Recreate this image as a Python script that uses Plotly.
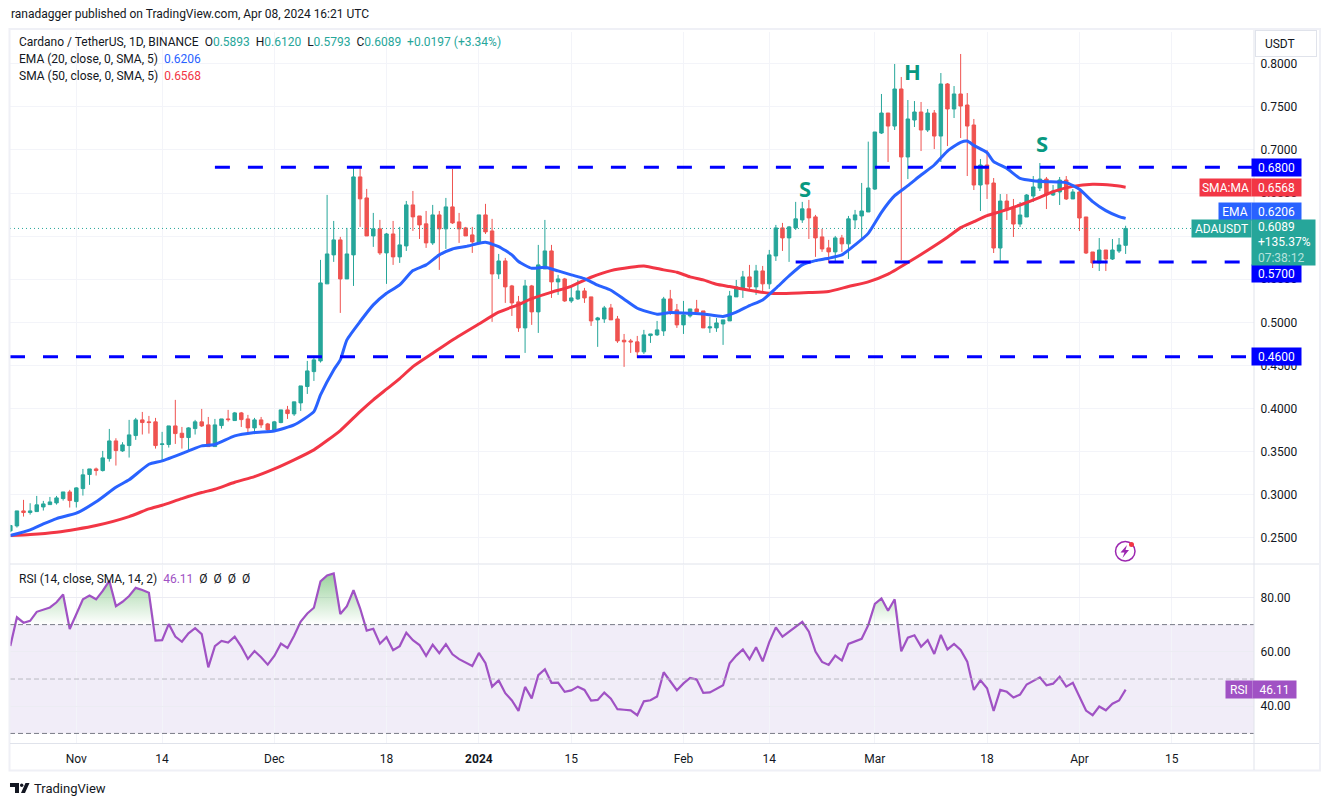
import pandas as pd
import plotly.graph_objects as go

W, H = 1329, 806
dates = pd.date_range("2023-10-22", periods=170)

opens = [.2580, .2638, .2812, .2793, .2804, .2858, .2885, .2905, .2955, .3032,
         .2920, .3071, .3234, .3299, .3280, .3419, .3624, .3508, .3570, .3686,
         .3868, .3845, .3845, .3582, .3582, .3798, .3713, .3663, .3767, .3845,
         .3810, .3558, .3802, .3879, .3860, .3949, .3879, .3775, .3868, .3821,
         .3740, .3837, .3984, .3937, .4065, .4255, .4428, .4552, .5446, .5782,
         .5956, .5503, .5782, .6687, .6443, .6002, .6084, .5805, .6025, .5759,
         .5886, .6362, .6234, .6142, .5921, .6246, .6084, .6339, .6165, .6095,
         .6014, .5921, .6246, .6060, .5561, .5712, .5422, .5237, .4935, .5422,
         .5121, .5619, .5828, .5469, .5503, .5248, .5271, .5364, .5295, .5028,
         .5039, .5167, .5039, .4792, .4784, .4773, .4657, .4846, .4854, .4900,
         .5271, .5144, .4970, .5074, .5155, .5132, .4935, .4935, .4981, .5016,
         .5295, .5399, .5527, .5411, .5596, .5446, .5770, .6095, .5979, .6095,
         .6188, .6316, .6223, .5991, .5863, .5817, .5979, .5910, .6188, .6234,
         .6280, .6546, .7196, .7428, .7277, .7707, .6918, .7347, .7440, .7231,
         .7428, .7161, .7765, .7475, .7649, .7521, .7289, .6593, .6825, .6616,
         .5862, .6407, .6338, .6140, .6222, .6465, .6558, .6662, .6477, .6512,
         .6651, .6431, .6512, .6222, .5816, .5688, .5839, .5734, .5827, .5893]
highs = [.2650, .2812, .2940, .2901, .2986, .2928, .2974, .2986, .3032, .3056,
         .3087, .3299, .3299, .3315, .3508, .3763, .3655, .3609, .3868, .3891,
         .3960, .3914, .3891, .3729, .3798, .4100, .3786, .3783, .3868, .3995,
         .3902, .3879, .3879, .3984, .3960, .3960, .3926, .3891, .3902, .3833,
         .3856, .3984, .4030, .4077, .4262, .4552, .4610, .5724, .6478, .6176,
         .5991, .6095, .6807, .6814, .6548, .6269, .6188, .6037, .6176, .6107,
         .6408, .6524, .6234, .6292, .6362, .6292, .6443, .6780, .6269, .6107,
         .6107, .6246, .6374, .6200, .5793, .5747, .5434, .5306, .5492, .5434,
         .5898, .6188, .5898, .5550, .5515, .5434, .5492, .5399, .5295, .5063,
         .5190, .5213, .5074, .4865, .4807, .4842, .4912, .4865, .5016, .5295,
         .5376, .5213, .5248, .5155, .5260, .5132, .5066, .5051, .5028, .5364,
         .5492, .5596, .5666, .5666, .5654, .5840, .6130, .6153, .6118, .6397,
         .6397, .6420, .6246, .6084, .5956, .6002, .6014, .6234, .6304, .6617,
         .7096, .7208, .7649, .7428, .7997, .7846, .7579, .7567, .7556, .7475,
         .7463, .7892, .7776, .7741, .8113, .7660, .7359, .6894, .7000, .6674,
         .6488, .6488, .6431, .6396, .6488, .6697, .6848, .6686, .6593, .6686,
         .6697, .6546, .6535, .6222, .5816, .5978, .5839, .5966, .5978, .6120]
lows = [.2565, .2619, .2746, .2769, .2804, .2816, .2885, .2885, .2932, .2851,
        .2851, .2990, .3114, .3222, .3269, .3384, .3338, .3497, .3431, .3636,
        .3698, .3709, .3535, .3404, .3547, .3589, .3535, .3500, .3698, .3786,
        .3558, .3558, .3767, .3848, .3856, .3786, .3713, .3702, .3775, .3729,
        .3729, .3829, .3879, .3914, .3972, .4169, .4320, .4533, .5446, .5701,
        .5109, .5503, .5422, .6107, .6002, .5875, .5782, .5446, .5666, .5689,
        .5828, .6060, .5967, .5863, .5898, .5608, .5851, .6142, .5921, .6002,
        .5805, .5906, .6025, .5005, .5503, .5225, .5074, .4889, .4645, .4970,
        .4877, .5619, .5283, .5318, .5237, .5225, .5260, .5225, .4958, .4715,
        .4993, .5028, .4761, .4483, .4645, .4587, .4633, .4761, .4842, .4842,
        .5086, .4935, .4865, .5055, .5121, .4935, .4877, .4889, .4738, .5016,
        .5295, .5283, .5376, .5318, .5353, .5387, .5712, .5828, .5701, .6072,
        .6153, .5967, .5759, .5817, .5689, .5701, .5817, .5735, .6084, .5967,
        .6280, .6535, .7185, .6860, .7231, .5723, .6662, .7266, .6987, .7208,
        .7010, .6860, .7045, .7370, .7138, .6697, .6535, .6291, .6431, .5804,
        .5711, .6187, .5990, .6106, .6222, .6396, .6523, .6314, .6465, .6361,
        .6419, .6431, .6059, .5792, .5630, .5595, .5595, .5723, .5804, .5793]
closes = [.2642, .2812, .2793, .2812, .2882, .2893, .2916, .2963, .3032, .2932,
          .3079, .3230, .3299, .3280, .3427, .3624, .3512, .3578, .3694, .3868,
          .3837, .3837, .3570, .3589, .3798, .3709, .3663, .3775, .3845, .3798,
          .3558, .3810, .3879, .3871, .3949, .3871, .3775, .3868, .3810, .3752,
          .3845, .3984, .3941, .4077, .4262, .4436, .4564, .5457, .5793, .5956,
          .5503, .5793, .6687, .6432, .6002, .6084, .5805, .6025, .5759, .5898,
          .6362, .6223, .6130, .5921, .6246, .6084, .6339, .6153, .6084, .6002,
          .5933, .6246, .6049, .5561, .5712, .5411, .5225, .4935, .5422, .5121,
          .5666, .5828, .5469, .5503, .5248, .5283, .5364, .5283, .5016, .5051,
          .5167, .5028, .4784, .4773, .4773, .4657, .4854, .4865, .4912, .5271,
          .5132, .4970, .5086, .5155, .5121, .4935, .4947, .4993, .5028, .5306,
          .5411, .5527, .5411, .5596, .5446, .5782, .6095, .5979, .6107, .6200,
          .6316, .6211, .5979, .5851, .5817, .5979, .5910, .6200, .6246, .6292,
          .6558, .7208, .7428, .7277, .7707, .6918, .7359, .7440, .7231, .7428,
          .7161, .7765, .7475, .7649, .7509, .7277, .6593, .6825, .6604, .5862,
          .6407, .6303, .6140, .6245, .6477, .6570, .6662, .6477, .6523, .6651,
          .6431, .6512, .6210, .5804, .5688, .5839, .5734, .5839, .5897, .6089]

# moving averages, day numbers counted from 1 Nov 2023
ema_days = [-10, -7, -5, -3, 0, 3, 6, 8, 11, 13, 17, 19, 21, 24, 27, 30, 33, 36, 37, 39, 40, 41,
            43, 45, 47, 49, 51, 53, 55, 57, 59, 61, 62, 64, 66, 67, 69, 71, 73, 75, 77, 79, 81,
            83, 85, 88, 90, 93, 95, 98, 100, 102, 104, 106, 108, 110, 112, 114, 116, 118, 120,
            122, 124, 126, 128, 130, 132, 134, 135, 136, 138, 139, 141, 143, 145, 147, 150, 152,
            154, 156, 158, 159]
ema_values = [.2526, .2592, .2661, .2723, .2785, .2917, .3087, .3172, .3353, .3392, .3508, .3566,
              .3582, .3682, .3721, .3740, .3810, .3964, .4158, .4448, .4564, .4796,
              .5009, .5202, .5337, .5434, .5600, .5666, .5782, .5851, .5879, .5917, .5929, .5879,
              .5782, .5705, .5627, .5639, .5596, .5550, .5507, .5430, .5372,
              .5268, .5163, .5094, .5113, .5105, .5097, .5067, .5117, .5194, .5260, .5395, .5538,
              .5666, .5716, .5743, .5782, .5898, .6032,
              .6276, .6469, .6585, .6709, .6825, .6987, .7088, .7103, .7053, .6968, .6864, .6786,
              .6670, .6643, .6632, .6620, .6543, .6400, .6295, .6226, .6206]
sma_days = [-10, -7, -3, 0, 3, 8, 11, 13, 16, 19, 21, 24, 27, 30, 33, 36, 38, 40, 43, 45, 47, 49,
            51, 54, 57, 61, 64, 67, 69, 72, 75, 78, 81, 84, 86, 89, 91, 93, 95, 97, 99, 102, 105,
            107, 111, 114, 117, 120, 123, 126, 129, 132, 134, 136, 138, 140, 143, 146, 148, 151,
            154, 157, 159]
sma_values = [.2526, .2538, .2565, .2599, .2642, .2746, .2835, .2878, .2955, .3025, .3063, .3145,
              .3210, .3299, .3404, .3520, .3628, .3744, .3964, .4100, .4224, .4347,
              .4486, .4641, .4796, .4981, .5117, .5206, .5275, .5349, .5418, .5523, .5600, .5639,
              .5654, .5608, .5581, .5527, .5492, .5442, .5415, .5372, .5337,
              .5333, .5345, .5357, .5415, .5469, .5558, .5693, .5835, .5986, .6098, .6168, .6237,
              .6284, .6361, .6450, .6516, .6577, .6601, .6589, .6568]

rsi_values = [62.1, 72.7, 70.7, 71.4, 74.7, 75.6, 76.3, 78.2, 81.1, 68.4,
              74.1, 79.3, 80.7, 79.3, 82.4, 86.1, 76.8, 78.4, 80.5, 83.5,
              82.7, 81.7, 64.1, 64.3, 70.2, 65.6, 63.7, 66.8, 68.7, 66.5,
              54.3, 62.1, 64.0, 63.4, 65.6, 61.9, 57.4, 60.3, 58.0, 55.3,
              58.5, 63.0, 61.4, 65.9, 71.1, 74.1, 76.2, 85.9, 88.1, 88.8,
              73.9, 76.8, 82.7, 76.0, 67.8, 68.5, 63.0, 65.4, 60.6, 62.1,
              67.0, 64.3, 62.5, 58.5, 62.6, 59.5, 62.8, 59.1, 57.3, 56.2,
              54.8, 59.6, 55.8, 47.2, 49.5, 44.8, 42.1, 38.3, 47.1, 42.9,
              51.4, 53.6, 48.6, 48.7, 45.3, 45.8, 47.2, 46.0, 42.1, 42.3,
              45.0, 42.8, 38.9, 38.7, 38.5, 36.7, 41.8, 42.2, 43.6, 52.5,
              49.1, 45.9, 48.4, 50.4, 49.8, 44.9, 45.1, 46.5, 47.7, 55.8,
              58.6, 60.9, 57.3, 61.7, 56.5, 63.6, 69.0, 65.6, 67.3, 69.0,
              71.0, 67.4, 60.1, 56.3, 55.2, 58.6, 56.8, 62.9, 63.9, 64.8,
              69.8, 77.6, 79.6, 75.1, 79.3, 60.2, 65.2, 66.1, 61.9, 64.3,
              59.2, 66.2, 60.9, 62.9, 60.7, 56.4, 46.0, 49.5, 46.6, 38.3,
              46.0, 45.3, 43.2, 44.3, 48.0, 49.3, 50.6, 47.7, 48.3, 50.8,
              47.2, 48.6, 43.6, 38.4, 36.7, 39.9, 38.5, 40.9, 42.1, 46.11]

tick_dates = ["2023-11-01", "2023-11-14", "2023-12-01", "2023-12-18", "2024-01-01", "2024-01-15",
              "2024-02-01", "2024-02-14", "2024-03-01", "2024-03-18", "2024-04-01", "2024-04-15"]
tick_labels = ["Nov", "14", "Dec", "18", "<b>2024</b>", "15", "Feb", "14", "Mar", "18", "Apr", "15"]
price_ticks = [0.25, 0.30, 0.35, 0.40, 0.45, 0.50, 0.55, 0.60, 0.65, 0.70, 0.75, 0.80]
rsi_ticks = [40, 60, 80]

level_values = [0.68, 0.57, 0.46]
level_starts = ["2023-11-22", "2024-02-18", "2023-10-21 22:48"]
pattern_labels = ["S", "H", "S"]
pattern_dates = ["2024-02-19 10:00", "2024-03-06 16:00", "2024-03-26 06:00"]
pattern_prices = [0.6558, 0.7915, 0.7080]

x_range = ["2023-10-21 22:48", "2024-04-27 10:48"]
GREEN, RED, BLUE, LEVEL, PURPLE = "#26a69a", "#ef5350", "#2962ff", "#0000ff", "#a052c4"
GRID, EDGE, INK = "#f3f4f9", "#e0e3eb", "#131722"
FONT = "Roboto"


def px(x):
    return x / W


def py(y):
    return 1 - y / H


def poly(points):
    return "M" + " L".join(f"{px(a):.5f},{py(b):.5f}" for a, b in points) + " Z"


def day_x(days):
    return pd.Timestamp("2023-11-01") + pd.to_timedelta(days, unit="D")


fig = go.Figure()
fig.add_trace(go.Candlestick(x=dates, open=opens, high=highs, low=lows, close=closes,
                             increasing=dict(line=dict(color=GREEN, width=1), fillcolor=GREEN),
                             decreasing=dict(line=dict(color=RED, width=1), fillcolor=RED),
                             whiskerwidth=0, showlegend=False))
fig.add_trace(go.Scatter(x=x_range, y=[closes[-1]] * 2, mode="lines",
                         line=dict(color=GREEN, width=1, dash="1px,3px")))
fig.add_trace(go.Scatter(x=day_x(sma_days), y=sma_values, mode="lines",
                         line=dict(color="#f23645", width=3, shape="spline", smoothing=0.5)))
fig.add_trace(go.Scatter(x=day_x(ema_days), y=ema_values, mode="lines",
                         line=dict(color=BLUE, width=3, shape="spline", smoothing=0.5)))
for value, start in zip(level_values, level_starts):
    fig.add_trace(go.Scatter(x=[start, x_range[1]], y=[value, value], mode="lines",
                             line=dict(color=LEVEL, width=3, dash="15px,18px")))

# RSI pane, green fill only above the 70 line
rsi_over = [max(v, 70) for v in rsi_values]
fig.add_trace(go.Scatter(x=dates, y=[70] * len(dates), mode="lines", line=dict(width=0), xaxis="x2", yaxis="y2"))
fig.add_trace(go.Scatter(x=dates, y=rsi_over, mode="lines", line=dict(width=0), fill="tonexty",
                         fillgradient=dict(type="vertical", start=70, stop=90,
                                           colorscale=[[0, "rgba(76,175,80,0)"], [1, "rgba(76,175,80,0.6)"]]),
                         xaxis="x2", yaxis="y2"))
fig.add_trace(go.Scatter(x=dates, y=rsi_values, mode="lines", line=dict(color=PURPLE, width=2.2),
                         xaxis="x2", yaxis="y2"))

shapes = [
    dict(type="rect", xref="x2 domain", x0=0, x1=1, yref="y2", y0=30, y1=70, layer="below",
         fillcolor="rgba(126,87,194,0.11)", line_width=0),
]
for value, color in zip([70, 50, 30], ["#787b86", "#b8b9c2", "#787b86"]):
    shapes.append(dict(type="line", xref="x2 domain", x0=0, x1=1, yref="y2", y0=value, y1=value,
                       line=dict(color=color, width=1, dash="5px,3px")))
# frame and pane separators
shapes += [
    dict(type="rect", xref="paper", yref="paper", x0=px(9.5), x1=px(1320), y0=py(770.5), y1=py(29),
         line=dict(color="#eff0f6", width=2)),
    dict(type="line", xref="paper", yref="paper", x0=px(10), x1=px(1319), y0=py(564), y1=py(564),
         line=dict(color=EDGE, width=1)),
    dict(type="line", xref="paper", yref="paper", x0=px(10), x1=px(1319), y0=py(743.5), y1=py(743.5),
         line=dict(color=EDGE, width=1)),
    dict(type="line", xref="paper", yref="paper", x0=px(1254), x1=px(1254), y0=py(770), y1=py(30),
         line=dict(color=EDGE, width=1)),
    # lightning badge
    dict(type="circle", xref="paper", yref="paper", x0=px(1115.5), x1=px(1135), y0=py(561), y1=py(541.5),
         line=dict(color="#9c27b0", width=1.5)),
    dict(type="path", xref="paper", yref="paper", fillcolor="#9c27b0", line_width=0,
         path=poly([(1127, 545), (1120.5, 552.5), (1124.5, 552.5), (1122.5, 558), (1129, 550), (1125.5, 550)])),
    dict(type="circle", xref="paper", yref="paper", x0=px(1129), x1=px(1134), y0=py(547), y1=py(542),
         fillcolor="#f23645", line_width=0),
    # TradingView mark
    dict(type="path", xref="paper", yref="paper", fillcolor=INK, line_width=0,
         path=poly([(10, 783), (19, 783), (19, 793), (15, 793), (15, 787), (10, 787)])),
    dict(type="circle", xref="paper", yref="paper", x0=px(20), x1=px(23.4), y0=py(787), y1=py(783.5),
         fillcolor=INK, line_width=0),
    dict(type="path", xref="paper", yref="paper", fillcolor=INK, line_width=0,
         path=poly([(25.5, 783), (29.5, 783), (25, 793), (21, 793)])),
]


def note(x, y, text, size=12, color=INK, **kw):
    return dict(xref="paper", yref="paper", x=px(x), y=py(y), text=text, showarrow=False, xanchor="left",
                yanchor="middle", font=dict(family=FONT, size=size, color=color), borderpad=0, **kw)


def flag(x, value, text, bg, width, yref="y", shift=0, align="center"):
    return dict(xref="paper", yref=yref, x=px(x), y=value, yshift=shift, text=text, showarrow=False,
                xanchor="left", yanchor="middle", bgcolor=bg, width=width, height=17, borderpad=0, align=align,
                font=dict(family=FONT, size=12, color="#ffffff"))


def col(text, color):
    return f"<span style='color:{color}'>{text}</span>"


sp = "\u00a0"
ohlc = (col("O", INK) + col(f"{opens[-1]:.4f}", GREEN) + sp + sp + col("H", INK) + col(f"{highs[-1]:.4f}", GREEN)
        + sp + sp + col("L", INK) + col(f"{lows[-1]:.4f}", GREEN) + sp + sp + col("C", INK)
        + col(f"{closes[-1]:.4f}", GREEN) + sp + sp + col("+0.0197 (+3.34%)", GREEN))
annotations = [
    note(10, 14, "ranadagger published on TradingView.com, Apr 08, 2024 16:21 UTC"),
    note(18, 42, f"Cardano / TetherUS, 1D, BINANCE{sp}{sp}" + ohlc),
    note(18, 59, f"EMA (20, close, 0, SMA, 5){sp}{sp}" + col(f"{ema_values[-1]:.4f}", BLUE)),
    note(18, 76, f"SMA (50, close, 0, SMA, 5){sp}{sp}" + col(f"{sma_values[-1]:.4f}", "#f23645")),
    note(18, 579, f"RSI (14, close, SMA, 14, 2){sp}{sp}" + col(f"{rsi_values[-1]:.2f}", PURPLE)
         + f"{sp}{sp}Ø{sp}{sp}Ø{sp}{sp}Ø{sp}{sp}Ø"),
    note(33, 788, "TradingView", size=13),
    dict(xref="paper", yref="paper", x=px(1255), y=py(44), text=f"{sp}{sp}{sp}USDT", showarrow=False, width=60,
         height=25, xanchor="left", yanchor="middle", align="left", bgcolor="#ffffff", bordercolor=EDGE,
         borderwidth=1, borderpad=0, font=dict(family=FONT, size=12, color=INK)),
    flag(1199, sma_values[-1], "SMA:MA", "#f23645", 51),
    flag(1218, ema_values[-1], "EMA", BLUE, 32, shift=6.5),
    flag(1191, closes[-1], "ADAUSDT", GREEN, 59),
    flag(1251, level_values[0], f"{sp}{sp}{level_values[0]:.4f}", LEVEL, 49, align="left"),
    flag(1251, level_values[1], f"{sp}{sp}{level_values[1]:.4f}", LEVEL, 49, shift=-12, align="left"),
    flag(1251, level_values[2], f"{sp}{sp}{level_values[2]:.4f}", LEVEL, 49, align="left"),
    flag(1251, sma_values[-1], f"{sp}{sp}{sma_values[-1]:.4f}", "#f23645", 49, align="left"),
    flag(1251, ema_values[-1], f"{sp}{sp}{ema_values[-1]:.4f}", BLUE, 49, shift=6.5, align="left"),
    dict(xref="paper", yref="y", x=px(1251), y=closes[-1], yshift=-14, showarrow=False, xanchor="left",
         yanchor="middle", bgcolor=GREEN, width=63, height=45, borderpad=0, align="left",
         text=f"{sp}{sp}{closes[-1]:.4f}<br>{sp}{sp}+135.37%<br>{sp}{sp}<span style='color:#b7e3de'>07:38:12</span>",
         font=dict(family=FONT, size=12, color="#ffffff")),
    flag(1225, rsi_values[-1], "RSI", PURPLE, 26, yref="y2"),
    flag(1252, rsi_values[-1], f"{rsi_values[-1]:.2f}", PURPLE, 43, yref="y2"),
]
for label, day, price in zip(pattern_labels, pattern_dates, pattern_prices):
    annotations.append(dict(x=day, y=price, xref="x", yref="y", text=f"<b>{label}</b>", showarrow=False,
                            font=dict(family="Open Sans", size=22, color="#089981")))

x_domain = [px(10), px(1254)]
fig.update_layout(
    width=W, height=H, margin=dict(l=0, r=0, t=0, b=0), paper_bgcolor="#ffffff", plot_bgcolor="#ffffff",
    showlegend=False, boxgap=0.25, shapes=shapes, annotations=annotations, hovermode=False,
    font=dict(family=FONT, size=12, color=INK),
    xaxis=dict(domain=x_domain, anchor="y", range=x_range, type="date", rangeslider=dict(visible=False),
               tickvals=tick_dates, showticklabels=False, ticks="", showgrid=True, gridcolor=GRID, zeroline=False),
    yaxis=dict(domain=[py(564), py(32)], anchor="x", side="right", range=[0.2196, 0.8368], tickvals=price_ticks,
               tickformat=".4f", showgrid=True, gridcolor=GRID, gridwidth=1, zeroline=False, ticks="outside",
               ticklen=3, tickcolor="rgba(0,0,0,0)", tickfont=dict(family=FONT, size=12, color=INK)),
    xaxis2=dict(domain=x_domain, anchor="y2", range=x_range, type="date", tickvals=tick_dates, ticktext=tick_labels,
                showgrid=True, gridcolor=GRID, zeroline=False, ticks="outside", ticklen=4, tickcolor="rgba(0,0,0,0)",
                tickfont=dict(family=FONT, size=12, color=INK)),
    yaxis2=dict(domain=[py(743.5), py(564.5)], anchor="x2", side="right", range=[26.3, 92.1], tickvals=rsi_ticks,
                tickformat=".2f", showgrid=True, gridcolor="#ececf3", zeroline=False, ticks="outside", ticklen=3,
                tickcolor="rgba(0,0,0,0)", tickfont=dict(family=FONT, size=12, color=INK)),
)

fig.write_html("out.html", config={"displayModeBar": False}, post_script="document.body.style.margin='0';")
